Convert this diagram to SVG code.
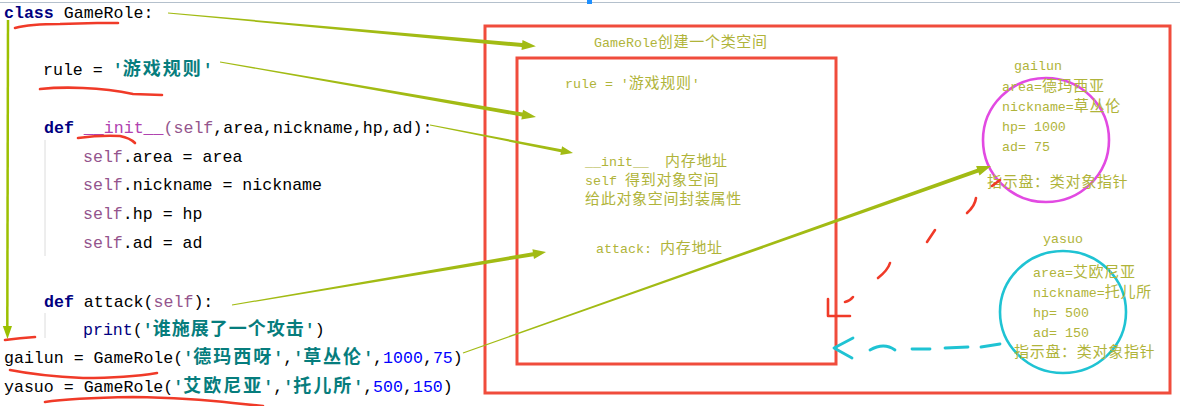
<svg xmlns="http://www.w3.org/2000/svg" width="1180" height="406" viewBox="0 0 1180 406">
<style>
.code{font-family:"Liberation Mono","Noto Sans CJK SC",monospace;font-size:16.6px;fill:#000}
.kw{fill:#000080;font-weight:bold}
.slf{fill:#94558d}
.dun{fill:#b042b0}
.str{fill:#067d7d;font-weight:bold}
.cjk{font-family:"Noto Sans CJK SC",sans-serif;font-size:18px;letter-spacing:2px}
.num{fill:#0000ff}
.fn{fill:#000080}
.note{font-family:"Liberation Mono","Noto Sans CJK SC",monospace;font-size:13.3px;fill:#b0b43a}
.ncjk{font-family:"Noto Sans CJK SC",sans-serif;font-size:15px;letter-spacing:0.7px}
.box{fill:none;stroke:#f04c3c;stroke-width:3}
.arrow{fill:#a2bb14}
.redmark{fill:none;stroke:#f03a28;stroke-width:2.6;stroke-linecap:round;stroke-linejoin:round}
.cyanmark{fill:none;stroke:#1fc3d3;stroke-width:2.8;stroke-linecap:round;stroke-linejoin:round}
.guide{stroke:#dcdcdc;stroke-width:1}
</style>
<rect width="1180" height="406" fill="#ffffff"/>
<line x1="0" y1="2.5" x2="1180" y2="2.5" stroke="#b4c0cc" stroke-width="1"/>
<rect x="587" y="0" width="5" height="4" fill="#1e90ff"/>

<g id="code">
<line class="guide" x1="45" y1="140" x2="45" y2="256"/>
<line class="guide" x1="45" y1="313" x2="45" y2="338"/>
<text class="code" x="4" y="18"><tspan class="kw">class</tspan> GameRole:</text>
<text class="code" x="43" y="75">rule = <tspan class="str">'<tspan class="cjk">游戏规则</tspan>'</tspan></text>
<text class="code" x="44" y="133"><tspan class="kw">def</tspan> <tspan class="dun">__init__</tspan><tspan class="slf">(self</tspan>,area,nickname,hp,ad):</text>
<text class="code" x="83" y="162"><tspan class="slf">self</tspan>.area = area</text>
<text class="code" x="83" y="190"><tspan class="slf">self</tspan>.nickname = nickname</text>
<text class="code" x="83" y="219"><tspan class="slf">self</tspan>.hp = hp</text>
<text class="code" x="83" y="248"><tspan class="slf">self</tspan>.ad = ad</text>
<text class="code" x="44" y="307"><tspan class="kw">def</tspan> attack(<tspan class="slf">self</tspan>):</text>
<text class="code" x="83" y="335"><tspan class="fn">print</tspan>(<tspan class="str">'<tspan class="cjk" style="letter-spacing:1px">谁施展了一个攻击</tspan>'</tspan>)</text>
<text class="code" x="4" y="363">gailun = GameRole(<tspan class="str">'<tspan class="cjk">德玛西呀</tspan>'</tspan>,<tspan class="str">'<tspan class="cjk">草丛伦</tspan>'</tspan>,<tspan class="num">1000</tspan>,<tspan class="num">75</tspan>)</text>
<text class="code" x="4" y="392">yasuo = GameRole(<tspan class="str">'<tspan class="cjk">艾欧尼亚</tspan>'</tspan>,<tspan class="str">'<tspan class="cjk">托儿所</tspan>'</tspan>,<tspan class="num">500</tspan>,<tspan class="num">150</tspan>)</text>
</g>

<g id="class-space">
<rect class="box" x="485" y="26" width="685" height="367"/>
<text class="note" x="594" y="47">GameRole<tspan class="ncjk">创建一个类空间</tspan></text>
</g>

<g id="class-body">
<rect class="box" x="517" y="58" width="319" height="306"/>
<text class="note" x="565" y="88">rule = '<tspan class="ncjk">游戏规则</tspan>'</text>
<text class="note" x="585" y="166">__init__<tspan class="ncjk" x="665">内存地址</tspan></text>
<text class="note" x="585" y="185">self <tspan class="ncjk" x="625">得到对象空间</tspan></text>
<text class="note" x="585" y="204"><tspan class="ncjk">给此对象空间封装属性</tspan></text>
<text class="note" x="596" y="253">attack: <tspan class="ncjk" x="660">内存地址</tspan></text>
</g>

<g id="gailun">
<ellipse cx="1046" cy="140" rx="63" ry="62" fill="none" stroke="#e24ae2" stroke-width="2.6"/>
<text class="note" x="1014" y="70">gailun</text>
<text class="note" x="1002" y="91">area=<tspan class="ncjk">德玛西亚</tspan></text>
<text class="note" x="1002" y="111">nickname=<tspan class="ncjk">草丛伦</tspan></text>
<text class="note" x="1002" y="131">hp= 1000</text>
<text class="note" x="1002" y="151">ad= 75</text>
<text class="note" x="987" y="187"><tspan class="ncjk">指示盘：类对象指针</tspan></text>
</g>

<g id="yasuo">
<ellipse cx="1063" cy="312" rx="63" ry="61" fill="none" stroke="#1fc3d3" stroke-width="2.6"/>
<text class="note" x="1043" y="243">yasuo</text>
<text class="note" x="1033" y="277">area=<tspan class="ncjk">艾欧尼亚</tspan></text>
<text class="note" x="1033" y="297">nickname=<tspan class="ncjk">托儿所</tspan></text>
<text class="note" x="1033" y="317">hp= 500</text>
<text class="note" x="1033" y="337">ad= 150</text>
<text class="note" x="1014" y="357"><tspan class="ncjk">指示盘：类对象指针</tspan></text>
</g>

<g id="connectors">
<path class="arrow" d="M167.95,13.5 L521.8,47.0 L521.5,50.0 L535.9,46.3 L522.5,40.0 L522.2,43.0 L168.05,12.5 Z"/>
<path class="arrow" d="M219.9,62.5 L521.9,116.6 L521.3,119.5 L536,117 L523.1,109.7 L522.5,112.6 L220.1,61.5 Z"/>
<path class="arrow" d="M429.9,125.5 L560.9,152.2 L560.3,155.1 L573,153 L562.1,146.3 L561.5,149.2 L430.1,124.5 Z"/>
<path class="arrow" d="M232.1,305.5 L533.5,256.2 L534.0,259.1 L546,252 L532.4,249.3 L532.9,252.2 L231.9,304.5 Z"/>
<path class="arrow" d="M463.2,353.5 L978.5,172.6 L979.5,175.4 L991,166 L976.1,166.0 L977.1,168.8 L462.8,352.5 Z"/>
<line x1="8" y1="20" x2="7.3" y2="328" stroke="#9cc000" stroke-width="2.5"/>
<path d="M2.8,326 L7.5,339 L12,326 Z" fill="#9cc000"/>
<path class="redmark" d="M992,186 L1000,180"/>
<path class="redmark" d="M976,198 Q975,206 967,213"/>
<path class="redmark" d="M935,230 L927,242"/>
<path class="redmark" d="M890,263 Q888,270 878,278"/>
<path class="redmark" d="M853,297 Q850,301 845,302"/>
<path class="redmark" d="M828,299 L828,316 L850,316"/>
<path class="cyanmark" d="M1000,344 L981,347"/>
<path class="cyanmark" d="M968,347 L945,348"/>
<path class="cyanmark" d="M930,349 L912,349"/>
<path class="cyanmark" d="M895,350 Q884,342 870,350"/>
<path class="cyanmark" d="M853,338 L834,348 L852,358"/>
</g>

<g id="underlines">
<path class="redmark" d="M15,28 Q30,24 60,24 L97,23 L118,23"/>
<path class="redmark" d="M40,89 Q60,87 83,88 Q110,89 133,94 L162,95"/>
<path class="redmark" d="M78,138 Q100,135 120,136 Q130,138 135,143"/>
<path class="redmark" d="M5,340 Q20,338 35,337"/>
<path class="redmark" d="M10,370 Q40,376 83,378 Q127,378 157,373"/>
<path class="redmark" d="M45,402 Q70,398 133,397 Q190,398 233,403 L263,406"/>
</g>
</svg>
